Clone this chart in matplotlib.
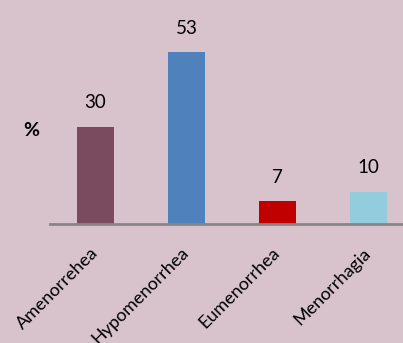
import matplotlib
matplotlib.use("Agg")
import matplotlib.pyplot as plt

categories = ["Amenorrehea", "Hypomenorrhea", "Eumenorrhea", "Menorrhagia"]
values = [30, 53, 7, 10]
colors = ["#7A4A5E", "#4F81BD", "#C00000", "#93CDDD"]
bg = "#D8C2CC"

plt.rcParams['font.family'] = ['Lato', 'DejaVu Sans']

fig = plt.figure(figsize=(4.03, 3.43), dpi=100, facecolor=bg)
ax = fig.add_axes([50/403, (343-224)/343, 364/403, 195/343])
ax.set_facecolor(bg)

x = list(range(len(categories)))
bars = ax.bar(x, values, width=0.41, color=colors)
ax.set_xlim(-0.5, 3.5)
ax.set_ylim(0, 60)

for xi, v in zip(x, values):
    ax.annotate(str(v), (xi, v), xytext=(0, 17), textcoords="offset points",
                ha="center", va="center", fontsize=13.5, color="#000000")

for s in ["top", "right", "left"]:
    ax.spines[s].set_visible(False)
ax.spines["bottom"].set_color("#868686")
ax.spines["bottom"].set_linewidth(2)
ax.set_yticks([])
ax.set_xticks(x)
ax.set_xticklabels(categories, rotation=45, ha="right", va="center",
                   rotation_mode="anchor", fontsize=13)
ax.tick_params(axis="x", length=0, pad=19)

fig.text(31/403, 1 - 130/343, "%", ha="center", va="center", fontsize=14,
         fontweight="bold")

fig.savefig("out.png", dpi=100, facecolor=bg)
